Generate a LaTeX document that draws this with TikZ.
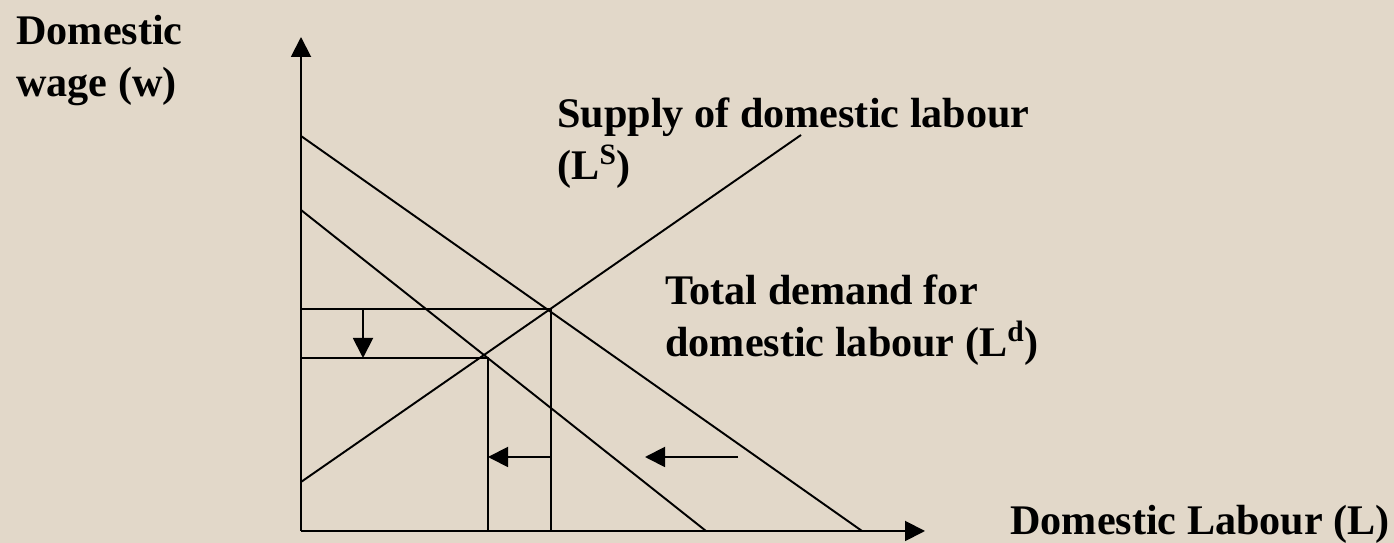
\documentclass[tikz,border=0pt]{standalone}
\usepackage{fontspec}
\setmainfont{Liberation Serif}
\usetikzlibrary{arrows.meta,positioning,calc}
\definecolor{sand}{RGB}{226,216,201}
\definecolor{ink}{RGB}{0,0,0}
\tikzset{
  >={Triangle[length=4mm,width=4mm]},
  axis/.style={->,draw=ink,line width=1.1pt},
  curve/.style={draw=ink,line width=1.1pt},
  guide/.style={draw=ink,line width=1.1pt},
  moveto/.style={->,draw=ink,line width=1.1pt},
  lbl/.style={anchor=base west,inner sep=0pt,align=left,text=ink,
    font=\fontsize{24}{30}\selectfont\bfseries},
}
\begin{document}
\begin{tikzpicture}
  \fill[sand] (0,0) rectangle (27.88,10.86);
  \useasboundingbox (0,0) rectangle (27.88,10.86);
  % axes
  \coordinate (O) at (6.02,0.24);
  \coordinate (ytop) at (6.02,10.12);
  \coordinate (xend) at (18.50,0.24);
  \draw[axis] (O) -- (ytop);
  \draw[axis] (O) -- (xend);
  % supply and the two demand curves
  \coordinate (s0) at (6.02,1.22);   \coordinate (s1) at (16.02,8.16);
  \coordinate (dA0) at (6.02,8.14);  \coordinate (dA1) at (17.24,0.24);
  \coordinate (dB0) at (6.02,6.66);  \coordinate (dB1) at (14.12,0.24);
  \draw[curve] (s0) -- (s1);
  \draw[curve] (dA0) -- (dA1);
  \draw[curve] (dB0) -- (dB1);
  % equilibria and their projections
  \coordinate (e1) at (11.02,4.68);  \coordinate (e2) at (9.76,3.70);
  \coordinate (w1) at (6.02,4.68);   \coordinate (w2) at (6.02,3.70);
  \coordinate (l1) at (11.02,0.24);  \coordinate (l2) at (9.76,0.24);
  \draw[guide] (w1) -- (e1) -- (l1);
  \draw[guide] (w2) -- (e2) -- (l2);
  % shifts
  \coordinate (wa) at (7.26,4.68);   \coordinate (wb) at (7.26,3.70);
  \coordinate (la) at (11.02,1.72);  \coordinate (lb) at (9.76,1.72);
  \coordinate (da) at (14.76,1.72);  \coordinate (db) at (12.90,1.72);
  \draw[moveto] (wa) -- (wb);
  \draw[moveto] (la) -- (lb);
  \draw[moveto] (da) -- (db);
  % labels (base = last line)
  \node[lbl] (wlab) at (0.32,8.92) {Domestic\\wage (w)};
  \node[lbl] (slab) at (11.14,7.26) {Supply of domestic labour\\(L\textsuperscript{S})};
  \node[lbl] (dlab) at (13.30,3.72) {Total demand for\\domestic labour (L\textsuperscript{d})};
  \node[lbl] (llab) at (20.20,0.16) {Domestic Labour (L)};
\end{tikzpicture}
\end{document}
